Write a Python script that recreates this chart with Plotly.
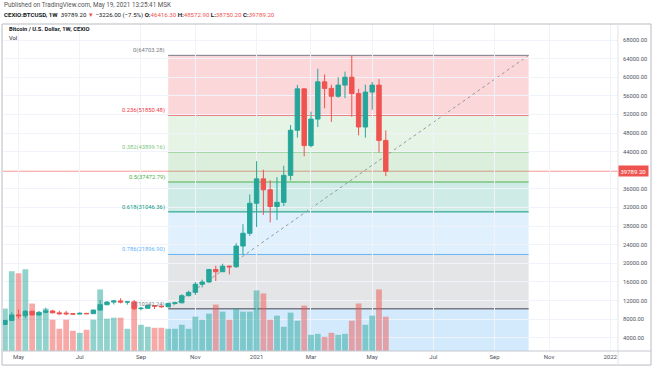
import pandas as pd
import plotly.graph_objects as go

# ---------------- data ----------------
week_start = "2020-04-20"
opens = [6850, 7700, 8900, 8720, 9680, 8900, 9450, 9750, 9340, 9300,
         9150, 9070, 9240, 9160, 9940, 11100, 11650, 11900, 11650, 11700,
         10250, 10330, 10930, 10780, 10670, 11380, 11500, 13030, 13750, 15480,
         15980, 18660, 18180, 19380, 19250, 23700, 26450, 32900, 38150, 35800,
         32200, 33100, 38900, 48600, 57500, 45300, 51000, 59000, 57600, 55900,
         58300, 60000, 56500, 49300, 56800, 58300, 46416.30]
highs = [7750, 9460, 10070, 9950, 9830, 9740, 10430, 9990, 9800, 9780,
         9300, 9450, 9300, 10000, 12100, 11900, 12100, 12480, 11800, 12090,
         10590, 11180, 10990, 10950, 11500, 11730, 13350, 14100, 15950, 16480,
         18800, 19480, 19900, 19420, 24300, 28400, 34800, 41950, 40100, 37850,
         38500, 40950, 49700, 58350, 57550, 52600, 61800, 60600, 58400, 60000,
         61200, 64703.28, 57500, 58400, 59000, 59600, 48572.90]
lows = [6760, 7650, 8100, 8200, 8800, 8640, 9260, 9270, 8950, 8830,
        8950, 9050, 9050, 9130, 9900, 10950, 11150, 11380, 11100, 9890,
        9870, 10250, 10150, 10420, 10540, 11180, 11420, 12900, 13200, 14800,
        15800, 16200, 18150, 17600, 19000, 21800, 25900, 27800, 30400, 28800,
        29300, 32300, 37800, 47000, 43000, 44950, 49300, 53300, 50400, 55600,
        55500, 51500, 47500, 47000, 53000, 43800, 38750.20]
closes = [7700, 8900, 8720, 9680, 8900, 9450, 9750, 9340, 9150, 9150,
          9070, 9240, 9160, 9940, 11100, 11650, 11900, 11650, 11700, 10250,
          10330, 10930, 10780, 10670, 11380, 11500, 13030, 13750, 15480, 15980,
          18660, 18180, 19380, 19250, 23700, 26450, 32900, 38150, 35800, 32200,
          33100, 38900, 48600, 57500, 45300, 51000, 59000, 57600, 55900, 58300,
          60000, 56500, 49300, 56800, 58300, 46416.30, 39789.20]
# volume (arbitrary units)
volume = [42, 79, 77, 81, 47, 38, 42, 31, 22, 31,
          20, 18, 21, 31, 61, 32, 33, 33, 22, 49,
          26, 24, 23, 23, 22, 22, 26, 22, 34, 31,
          37, 46, 39, 31, 42, 39, 39, 60, 57, 31,
          35, 24, 38, 30, 45, 16, 17, 14, 18, 16,
          17, 30, 47, 26, 35, 61, 34]

month_tick_dates = ["2020-05-04", "2020-07-06", "2020-09-07", "2020-11-02", "2021-01-04",
                    "2021-03-01", "2021-05-03", "2021-07-05", "2021-09-06", "2021-11-01",
                    "2022-01-03"]
month_tick_labels = ["May", "Jul", "Sep", "Nov", "2021", "Mar", "May", "Jul", "Sep", "Nov", "2022"]

price_ticks = [4000, 8000, 12000, 16000, 20000, 24000, 28000, 32000, 36000,
               44000, 48000, 52000, 56000, 60000, 64000, 68000]

fib_ratios = ["0", "0.236", "0.382", "0.5", "0.618", "0.786", "1"]
fib_prices = [64703.28, 51850.48, 43899.16, 37472.79, 31046.36, 21896.90, 10242.24]
fib_colors = ["#787B86", "#F23645", "#81C784", "#4CAF50", "#089981", "#64B5F6", "#787B86"]
fib_ext_ratio = 1.618
fib_ext_color = "#2196F3"
fib_start = "2020-10-05"
fib_end = "2021-10-11"

last_price = 39789.20

UP = "#26a69a"
DOWN = "#ef5350"


def rgba(hex_color, a):
    h = hex_color.lstrip("#")
    r, g, b = int(h[0:2], 16), int(h[2:4], 16), int(h[4:6], 16)
    return f"rgba({r},{g},{b},{a})"


dates = pd.date_range(week_start, periods=len(opens), freq="W-MON")
vol_colors = [rgba(UP, 0.5) if c >= o else rgba(DOWN, 0.5) for o, c in zip(opens, closes)]

fig = go.Figure()

fig.add_trace(go.Bar(x=dates, y=volume, marker=dict(color=vol_colors, line=dict(width=0)),
                     xaxis="x", yaxis="y", hoverinfo="skip"))

fig.add_trace(go.Candlestick(
    x=dates, open=opens, high=highs, low=lows, close=closes,
    increasing=dict(line=dict(color=UP, width=1), fillcolor=UP),
    decreasing=dict(line=dict(color=DOWN, width=1), fillcolor=DOWN),
    xaxis="x", yaxis="y2", whiskerwidth=0,
))

shapes = []
annotations = []

# fib fills
for k in range(1, len(fib_prices)):
    shapes.append(dict(type="rect", xref="x", yref="y2", x0=fib_start, x1=fib_end,
                       y0=fib_prices[k], y1=fib_prices[k - 1],
                       fillcolor=rgba(fib_colors[k], 0.2), line=dict(width=0), layer="below"))
fib_hi, fib_lo = fib_prices[0], fib_prices[-1]
ext_price = fib_hi - fib_ext_ratio * (fib_hi - fib_lo)
shapes.append(dict(type="rect", xref="x", yref="y2", x0=fib_start, x1=fib_end,
                   y0=ext_price, y1=fib_lo,
                   fillcolor=rgba(fib_ext_color, 0.2), line=dict(width=0), layer="below"))
# fib lines & labels
for r, p, c in zip(fib_ratios, fib_prices, fib_colors):
    shapes.append(dict(type="line", xref="x", yref="y2", x0=fib_start, x1=fib_end, y0=p, y1=p,
                       line=dict(color=c, width=1.5 if r == "1" else 1), layer="below"))
    annotations.append(dict(xref="x", yref="y2", x=fib_start, y=p, text=f"{r}({p:.2f})",
                            showarrow=False, xanchor="right", yanchor="bottom", xshift=-1, yshift=-1,
                            font=dict(size=5.8, color=c)))
# trend line
shapes.append(dict(type="line", xref="x", yref="y2", x0=fib_start, y0=fib_lo, x1=fib_end, y1=fib_hi,
                   line=dict(color="#9598A1", width=1, dash="dot"), layer="below"))
# last price line
shapes.append(dict(type="line", xref="paper", yref="y2", x0=0, x1=1, y0=last_price, y1=last_price,
                   line=dict(color=rgba(DOWN, 0.6), width=1), layer="below"))

# frame
frame_col = "#b8bbc3"
shapes += [
    dict(type="line", xref="paper", yref="paper", x0=-0.0016, x1=1.0537, y0=1, y1=1, line=dict(color=frame_col, width=1)),
    dict(type="line", xref="paper", yref="paper", x0=-0.0016, x1=1.0537, y0=-0.043, y1=-0.043, line=dict(color=frame_col, width=1)),
    dict(type="line", xref="paper", yref="paper", x0=-0.0016, x1=-0.0016, y0=-0.043, y1=1, line=dict(color=frame_col, width=1)),
    dict(type="line", xref="paper", yref="paper", x0=1.0537, x1=1.0537, y0=-0.043, y1=1, line=dict(color=frame_col, width=1)),
    dict(type="line", xref="paper", yref="paper", x0=1, x1=1, y0=-0.043, y1=1, line=dict(color="#e0e3eb", width=1)),
    dict(type="line", xref="paper", yref="paper", x0=-0.0016, x1=1.0537, y0=0, y1=0, line=dict(color="#c5c8d0", width=1)),
]

# price label
annotations.append(dict(xref="paper", yref="y2", x=1, y=last_price, text=f"{last_price:.2f}",
                        showarrow=False, xanchor="left", yanchor="middle", xshift=0,
                        bgcolor=DOWN, borderpad=1.5, font=dict(size=6, color="white")))

# header texts
red = DOWN
header2 = ("<b>CEXIO:BTCUSD, 1W</b>  39789.20 <span style='color:%s'>▼</span> −3226.00 (−7.5%%) "
           "<b>O:</b><span style='color:%s'>46416.30</span> <b>H:</b><span style='color:%s'>48572.90</span> "
           "<b>L:</b><span style='color:%s'>38750.20</span> <b>C:</b><span style='color:%s'>39789.20</span>"
           % (red, red, red, red, red))
annotations += [
    dict(xref="paper", yref="paper", x=0, y=1, xanchor="left", yanchor="middle", xshift=-1, yshift=19,
         text="Published on TradingView.com, May 19, 2021 13:25:41 MSK", showarrow=False,
         font=dict(size=6.3, color="#555555")),
    dict(xref="paper", yref="paper", x=0, y=1, xanchor="left", yanchor="middle", xshift=-1, yshift=9,
         text=header2, showarrow=False, font=dict(size=6.1, color="#131722")),
    dict(xref="paper", yref="paper", x=0, y=1, xanchor="left", yanchor="middle", xshift=4, yshift=-5,
         text="<b>Bitcoin / U.S. Dollar, 1W, CEXIO</b>", showarrow=False, font=dict(size=5.8, color="#131722")),
    dict(xref="paper", yref="paper", x=0, y=1, xanchor="left", yanchor="middle", xshift=4, yshift=-14,
         text="Vol", showarrow=False, font=dict(size=5.8, color="#131722")),
]

fig.update_layout(
    width=654, height=366,
    margin=dict(l=3, r=36, t=24, b=15),
    paper_bgcolor="white", plot_bgcolor="white",
    showlegend=False,
    bargap=0.15,
    boxgap=0.35, boxgroupgap=0,
    font=dict(family="Roboto, 'Open Sans', sans-serif", size=6, color="#131722"),
    xaxis=dict(type="date", range=["2020-04-18", "2022-01-11"],
               tickvals=month_tick_dates, ticktext=month_tick_labels,
               showgrid=True, gridcolor="#f0f3fa", gridwidth=1,
               rangeslider=dict(visible=False), ticks="", ticklen=0, showline=False, zeroline=False,
               tickfont=dict(size=6, color="#50535e"), ticklabelstandoff=1),
    yaxis=dict(range=[0, max(volume) * 4.0], visible=False, showgrid=False, zeroline=False),
    yaxis2=dict(overlaying="y", side="right", range=[1141, 71440],
                tickvals=price_ticks, tickformat=".2f",
                showgrid=True, gridcolor="#f0f3fa", gridwidth=1, zeroline=False,
                ticks="", ticklen=0, showline=False, ticklabelstandoff=4,
                tickfont=dict(size=5.8, color="#50535e")),
    shapes=shapes,
    annotations=annotations,
)

fig.write_html("out.html", config={"displayModeBar": False},
               post_script="document.body.style.margin='0';document.body.style.overflow='hidden';")
